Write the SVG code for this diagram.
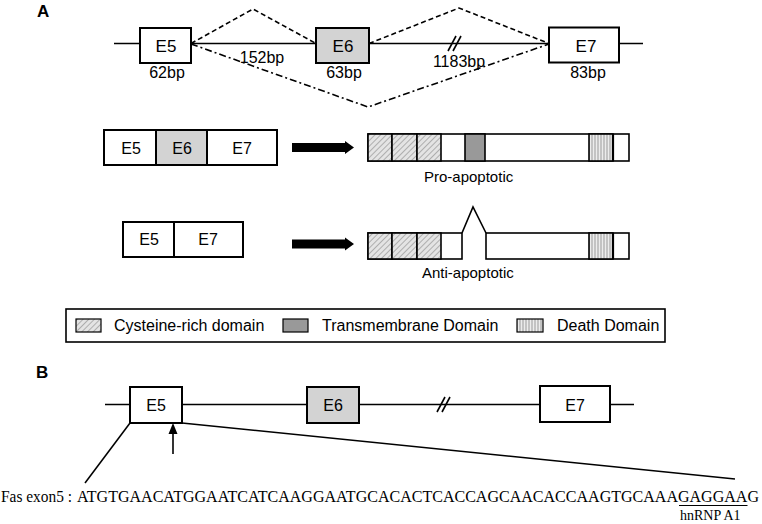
<svg xmlns="http://www.w3.org/2000/svg" width="762" height="524" viewBox="0 0 762 524">
<defs>
<style>
.box{fill:#fff;stroke:#000;stroke-width:2}
.exg{fill:#d3d3d3;stroke:#000;stroke-width:2}
.seg{stroke:#000;stroke-width:1.6}
.ln{stroke:#000;stroke-width:1.6;fill:none}
.t{font-family:"Liberation Sans",Arial,sans-serif;font-size:16px;fill:#000}
.c{text-anchor:middle}
.hd{font-family:"Liberation Sans",Arial,sans-serif;font-size:17px;font-weight:bold;fill:#000}
.dash{stroke:#000;stroke-width:1.6;fill:none;stroke-dasharray:5 3}
.dd{stroke:#000;stroke-width:1.6;fill:none;stroke-dasharray:7 3 2 3}
.sf{font-family:"Liberation Serif","Times New Roman",serif;font-size:15.8px;fill:#000}
</style>
<pattern id="hatch" width="4" height="4" patternUnits="userSpaceOnUse" patternTransform="rotate(45)">
<rect width="4" height="4" fill="#e4e4e4"/>
<line x1="0" y1="0" x2="0" y2="4" stroke="#8a8a8a" stroke-width="1.2"/>
</pattern>
<pattern id="vstripe" width="3" height="4" patternUnits="userSpaceOnUse">
<rect width="3" height="4" fill="#ececec"/>
<line x1="1" y1="0" x2="1" y2="4" stroke="#9a9a9a" stroke-width="1"/>
</pattern>
</defs>
<rect width="762" height="524" fill="#fff"/>

<text class="hd" x="37" y="17">A</text>
<text class="hd" x="36" y="378">B</text>

<g id="connectors">
<line class="ln" x1="114" y1="43.5" x2="643" y2="43.5"/>
<line class="ln" x1="448" y1="51" x2="456" y2="36"/>
<line class="ln" x1="453" y1="51" x2="461" y2="36"/>
<polyline class="dash" points="191,43.5 253,9 316,43.5"/>
<polyline class="dash" points="369,43.5 459,8 549,43.5"/>
<polyline class="dd" points="191,44 368,107 549,44"/>
<polygon points="292,143 345,143 345,141 354,147.5 345,154 345,152 292,152" fill="#000"/>
<polygon points="292,239.5 345,239.5 345,237.5 354,244 345,250.5 345,248.5 292,248.5" fill="#000"/>
<line class="ln" x1="105" y1="404.5" x2="634" y2="404.5"/>
<line class="ln" x1="437" y1="412" x2="445" y2="397"/>
<line class="ln" x1="442" y1="412" x2="450" y2="397"/>
<line class="ln" x1="130" y1="423" x2="85" y2="483"/>
<line class="ln" x1="182" y1="423" x2="735" y2="479"/>
<line class="ln" x1="173" y1="454" x2="173" y2="432"/>
<polygon points="173,423 168.5,434 177.5,434" fill="#000"/>
</g>

<g id="geneA-E5"><rect class="box" x="140" y="28" width="51" height="35"/><text class="t c" x="166" y="51.5" style="font-size:17px">E5</text><text class="t c" x="167" y="77.5">62bp</text></g>
<g id="geneA-E6"><rect class="exg" x="316" y="28" width="53" height="35"/><text class="t c" x="343" y="51.5" style="font-size:17px">E6</text><text class="t c" x="344" y="77.5">63bp</text></g>
<g id="geneA-E7"><rect class="box" x="549" y="27.5" width="70" height="35"/><text class="t c" x="586" y="51.5" style="font-size:17px">E7</text><text class="t c" x="588" y="77.5">83bp</text></g>
<text class="t c" x="262" y="63">152bp</text>
<text class="t c" x="459" y="66.5">1183bp</text>

<g id="mrna-pro">
<rect class="box" x="104" y="130" width="52" height="35"/>
<rect class="exg" x="156" y="130" width="51" height="35"/>
<rect class="box" x="207" y="130" width="70" height="35"/>
<text class="t c" x="131" y="153.5">E5</text><text class="t c" x="182" y="153.5">E6</text><text class="t c" x="242" y="153.5">E7</text>
</g>
<g id="mrna-anti">
<rect class="box" x="123" y="222" width="51" height="35"/>
<rect class="box" x="174" y="222" width="69" height="35"/>
<text class="t c" x="149" y="245">E5</text><text class="t c" x="208" y="245">E7</text>
</g>

<g id="protein-pro">
<rect class="seg" x="368" y="134" width="261" height="27" fill="#fff"/>
<rect class="seg" x="368" y="134" width="24" height="27" fill="url(#hatch)"/>
<rect class="seg" x="392" y="134" width="25" height="27" fill="url(#hatch)"/>
<rect class="seg" x="417" y="134" width="24" height="27" fill="url(#hatch)"/>
<rect class="seg" x="465" y="134" width="20" height="27" fill="#999"/>
<rect class="seg" x="589" y="134" width="24" height="27" fill="url(#vstripe)"/>
<line x1="613" y1="134" x2="613" y2="161" stroke="#000" stroke-width="2.2"/>
<text class="t" x="424" y="182" style="font-size:15px">Pro-apoptotic</text>
</g>

<g id="protein-anti">
<rect class="seg" x="368" y="233" width="94" height="26" fill="#fff"/>
<rect class="seg" x="486" y="233" width="143" height="26" fill="#fff"/>
<rect class="seg" x="368" y="233" width="24" height="26" fill="url(#hatch)"/>
<rect class="seg" x="392" y="233" width="25" height="26" fill="url(#hatch)"/>
<rect class="seg" x="417" y="233" width="24" height="26" fill="url(#hatch)"/>
<rect class="seg" x="589" y="233" width="24" height="26" fill="url(#vstripe)"/>
<line x1="613" y1="233" x2="613" y2="259" stroke="#000" stroke-width="2.2"/>
<polyline class="seg" fill="none" points="462,233 473,207 486,233"/>
<text class="t" x="422" y="278" style="font-size:15px">Anti-apoptotic</text>
</g>

<g id="legend">
<rect x="66" y="309" width="599" height="33" fill="#fff" stroke="#000" stroke-width="1.6"/>
<rect x="76" y="319" width="25" height="13" fill="url(#hatch)" stroke="#000" stroke-width="1.2"/>
<text class="t" x="114" y="331">Cysteine-rich domain</text>
<rect x="283" y="319" width="25" height="13" fill="#999" stroke="#000" stroke-width="1.2"/>
<text class="t" x="322" y="331">Transmembrane Domain</text>
<rect x="517" y="319" width="26" height="13" fill="url(#vstripe)" stroke="#000" stroke-width="1.2"/>
<text class="t" x="557" y="331">Death Domain</text>
</g>

<g id="geneB-E5"><rect class="box" x="130" y="387" width="52" height="36"/><text class="t c" x="156" y="410.5">E5</text></g>
<g id="geneB-E6"><rect class="exg" x="307" y="387" width="52" height="36"/><text class="t c" x="333" y="410.5">E6</text></g>
<g id="geneB-E7"><rect class="box" x="540" y="386" width="70" height="36"/><text class="t c" x="575" y="410.5">E7</text></g>

<g id="sequence">
<text class="sf" x="1" y="502" textLength="71" lengthAdjust="spacingAndGlyphs">Fas exon5 :</text>
<text class="sf" x="77" y="502" textLength="682" lengthAdjust="spacingAndGlyphs">ATGTGAACATGGAATCATCAAGGAATGCACACTCACCAGCAACACCAAGTGCAAAGAGGAAG</text>
<line x1="679" y1="505.5" x2="747.5" y2="505.5" stroke="#000" stroke-width="1"/>
<text class="sf" x="680" y="520" style="font-size:14px">hnRNP A1</text>
</g>
</svg>
